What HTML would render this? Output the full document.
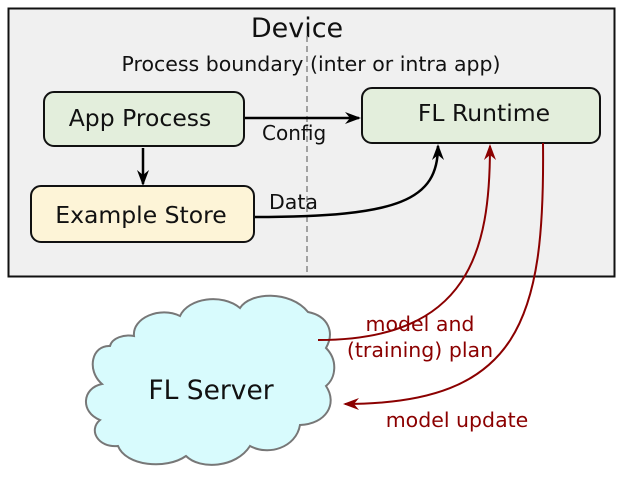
<!DOCTYPE html>
<html><head><style>
html,body{margin:0;padding:0;background:#fff;}
svg{display:block;font-family:"DejaVu Sans","Liberation Sans",sans-serif;}
</style></head><body>
<svg width="629" height="482" viewBox="0 0 629 482">
<defs>
<marker id="ab" markerWidth="16" markerHeight="12" refX="14" refY="6" orient="auto" markerUnits="userSpaceOnUse"><path d="M0,0 L16,6 L0,12 L5,6 Z" fill="#000"/></marker>
<marker id="ar" markerWidth="16" markerHeight="12" refX="14" refY="6" orient="auto" markerUnits="userSpaceOnUse"><path d="M0,0 L16,6 L0,12 L5,6 Z" fill="#8b0000"/></marker>
</defs>
<rect x="8.5" y="8.5" width="606" height="268" fill="#f0f0f0" stroke="#111" stroke-width="2"/>
<text x="297" y="37" font-size="27" text-anchor="middle" fill="#111">Device</text>
<text x="311" y="71" font-size="20.5" text-anchor="middle" fill="#111">Process boundary (inter or intra app)</text>
<line x1="307" y1="36" x2="307" y2="272" stroke="#888" stroke-width="1.5" stroke-dasharray="6,4"/>
<rect x="44" y="92" width="200" height="54" rx="10" fill="#e3eedc" stroke="#111" stroke-width="2"/>
<text x="140" y="126" font-size="23.5" text-anchor="middle" fill="#111">App Process</text>
<rect x="362" y="88" width="238" height="55" rx="10" fill="#e3eedc" stroke="#111" stroke-width="2"/>
<text x="484" y="121" font-size="23.5" text-anchor="middle" fill="#111">FL Runtime</text>
<rect x="31" y="186" width="223" height="56" rx="10" fill="#fdf4d7" stroke="#111" stroke-width="2"/>
<text x="141" y="223" font-size="23.5" text-anchor="middle" fill="#111">Example Store</text>
<line x1="245" y1="118" x2="359" y2="118" stroke="#000" stroke-width="2.5" marker-end="url(#ab)"/>
<text x="262" y="140" font-size="20" fill="#111">Config</text>
<line x1="143" y1="148" x2="143" y2="184" stroke="#000" stroke-width="2.5" marker-end="url(#ab)"/>
<path d="M255,217 C400,217 438,200 438,146" fill="none" stroke="#000" stroke-width="2.5" marker-end="url(#ab)"/>
<text x="269" y="209" font-size="20.5" fill="#111">Data</text>
<path d="M134,336 C132,318 160,306 180,316 C188,298 222,293 240,308 C250,292 290,290 308,312 C328,316 335,332 326,348 C338,360 336,378 326,386 C338,404 326,424 300,425 C296,448 268,456 250,446 C236,468 200,470 186,456 C166,470 126,466 118,446 C98,448 88,430 100,420 C80,412 82,388 102,384 C86,370 92,345 110,346 C112,338 124,334 134,336 Z" fill="#d8fbfd" stroke="#777" stroke-width="2"/>
<text x="211" y="399" font-size="26.5" text-anchor="middle" fill="#111">FL Server</text>
<path d="M318,340 C470,340 490,250 490,146" fill="none" stroke="#8b0000" stroke-width="2" marker-end="url(#ar)"/>
<path d="M543,143 C545,320 520,404 345,404" fill="none" stroke="#8b0000" stroke-width="2" marker-end="url(#ar)"/>
<text x="420" y="331" font-size="20.5" text-anchor="middle" fill="#8b0000">model and</text>
<text x="420" y="357" font-size="20.5" text-anchor="middle" fill="#8b0000">(training) plan</text>
<text x="457" y="427" font-size="20.5" text-anchor="middle" fill="#8b0000">model update</text>
</svg>
</body></html>
